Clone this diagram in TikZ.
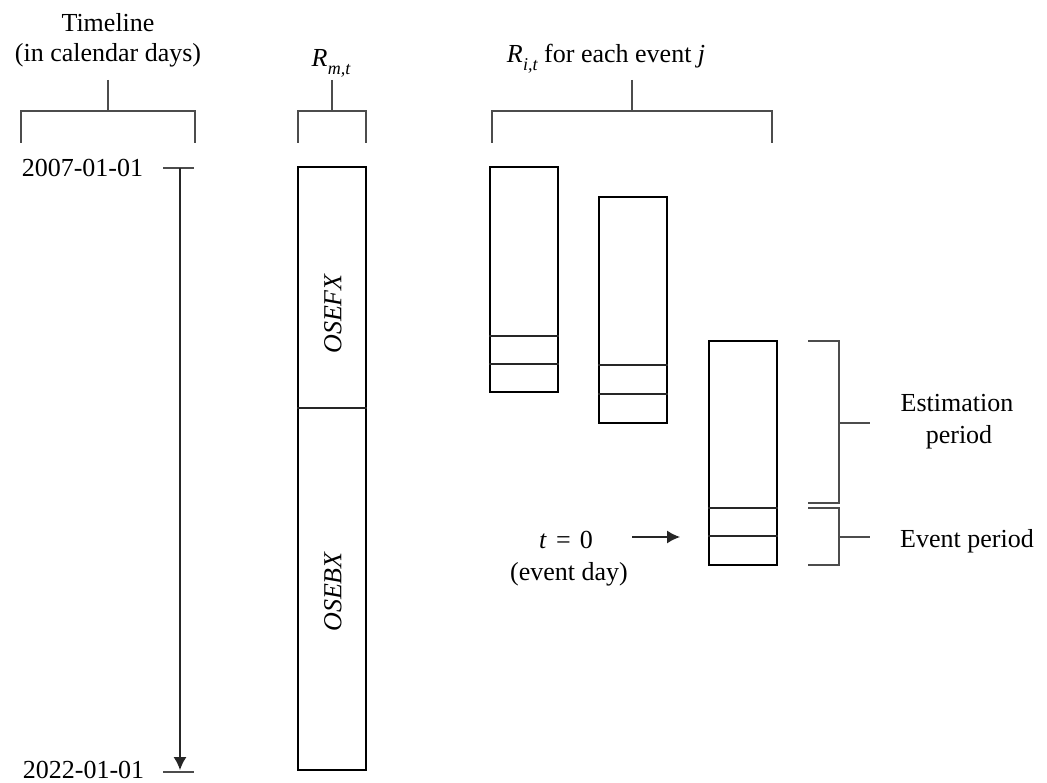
\RequirePackage{fix-cm}
\documentclass[tikz,border=0pt]{standalone}
\usepackage{fontspec}
\setmainfont{Liberation Serif}
\usetikzlibrary{arrows.meta}
\newcommand{\symR}[1]{\textit{R}\kern0.5pt\raisebox{-0.28em}{\fontsize{18}{20}\selectfont\itshape #1}}
\begin{document}
\begin{tikzpicture}[x=1pt,y=-1pt,
  lbl/.style={font=\fontsize{26}{30}\selectfont, inner sep=0pt, anchor=base},
  brk/.style={draw=black!70, line width=1.3pt},
  bx/.style={draw=black, line width=2.2pt, inner sep=0pt, minimum width=68pt},
  sep/.style={draw=black!85, line width=1.1pt},
  arr/.style={draw=black!85, line width=1.3pt, -{Latex[length=13pt,width=13pt]}}]
\useasboundingbox (0,0) rectangle (1047,783);

% titles
\node[lbl] (tl1) at (108,32) {Timeline};
\node[lbl] (tl2) at (108,62) {(in calendar days)};
\node[lbl] (rm) at (331,67) {\symR{m,t}};
\node[lbl] (ri) at (606,63) {\symR{i,t} for each event \textit{j}};

% top brackets
\coordinate (b1s) at (108,80);
\draw[brk] (b1s) -- (108,111);
\draw[brk] (21,143) -- (21,111) -- (195,111) -- (195,143);
\coordinate (b2s) at (332,80);
\draw[brk] (b2s) -- (332,111);
\draw[brk] (298,143) -- (298,111) -- (366,111) -- (366,143);
\coordinate (b3s) at (632,80);
\draw[brk] (b3s) -- (632,111);
\draw[brk] (492,143) -- (492,111) -- (772,111) -- (772,143);

% timeline
\node[lbl] (d1) at (82.5,177) {2007-01-01};
\node[lbl] (d2) at (83.5,778) {2022-01-01};
\coordinate (ts) at (180,168);
\coordinate (te) at (180,770);
\draw[brk] (163,168) -- (194,168);
\draw[brk] (163,772) -- (194,772);
\draw[arr] (ts) -- (te);

% market box
\node[bx, minimum height=603pt] (rmbox) at (332,468.5) {};
\draw[sep] (rmbox.west |- 0,408) -- (rmbox.east |- 0,408);
\node[font=\fontsize{26}{30}\selectfont\itshape, rotate=90, inner sep=0pt] (osefx) at (333,314) {OSEFX};
\node[font=\fontsize{26}{30}\selectfont\itshape, rotate=90, inner sep=0pt] (osebx) at (333,592) {OSEBX};

% event boxes
\node[bx, minimum height=225pt] (e1) at (524,279.5) {};
\draw[sep] (e1.west |- 0,336) -- (e1.east |- 0,336);
\draw[sep] (e1.west |- 0,364) -- (e1.east |- 0,364);
\node[bx, minimum height=226pt] (e2) at (633,310) {};
\draw[sep] (e2.west |- 0,365) -- (e2.east |- 0,365);
\draw[sep] (e2.west |- 0,394) -- (e2.east |- 0,394);
\node[bx, minimum height=224pt] (e3) at (743,453) {};
\draw[sep] (e3.west |- 0,508) -- (e3.east |- 0,508);
\draw[sep] (e3.west |- 0,536) -- (e3.east |- 0,536);

% event day
\node[lbl] (t0) at (566,548) {\textit{t}\hspace{0.35em}=\hspace{0.35em}0};
\node[lbl] (ed) at (569,580) {(event day)};
\coordinate (as) at (632,537);
\coordinate (ae) at (680,537);
\draw[arr] (as) -- (ae);

% right brackets
\draw[brk] (808,341) -- (839,341) -- (839,503) -- (808,503);
\draw[brk] (839,423) -- (870,423);
\draw[brk] (808,508) -- (839,508) -- (839,565) -- (808,565);
\draw[brk] (839,537) -- (870,537);
\node[lbl] (est1) at (957,412) {Estimation};
\node[lbl] (est2) at (959,443) {period};
\node[lbl] (evp) at (967,547) {Event period};
\end{tikzpicture}
\end{document}
